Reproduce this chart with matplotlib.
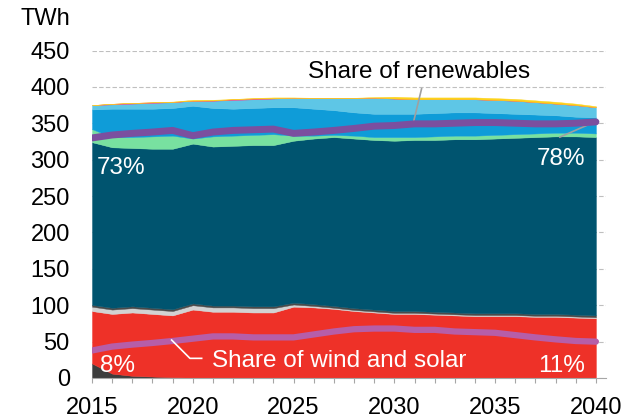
import matplotlib
matplotlib.use('Agg')
import matplotlib.pyplot as plt
from matplotlib.ticker import MultipleLocator

plt.rcParams['font.family'] = ['Liberation Sans', 'DejaVu Sans']

years = list(range(2015, 2041))
# TWh by source (stacked, bottom to top)
coal = [20, 6, 3, 2, 1, 0.5, 0, 0, 0, 0, 0, 0, 0, 0, 0, 0, 0, 0, 0, 0, 0, 0, 0, 0, 0, 0]
gas = [72, 82, 87, 86, 85, 93.5, 91, 91, 90, 90, 98, 97, 95, 92, 90, 88, 88, 87, 86, 85, 85, 85, 84, 84, 83, 82]
oil = [6, 6, 6, 6, 6, 6, 6, 6, 6, 6, 3, 2, 1.5, 1.5, 1.5, 1.5, 1.5, 1.5, 1.5, 1.5, 1.5, 1.5, 1.5, 1.5, 1.5, 1.5]
other = [2.5] * 26
hydro = [223.5, 220.5, 217.5, 218.5, 220.5, 219.5, 218.5, 219.5, 221.5, 221.5, 222.5, 227.5, 232, 233, 233, 234,
         235, 236, 238, 239, 240, 241, 243, 244, 245, 245]
bio = [18, 14, 15, 17, 18, 7, 14, 14, 14, 15, 7, 4, 3, 4, 4, 5, 4, 5, 5, 5, 5, 5, 5, 5, 5, 5]
wind = [27, 39, 39, 38, 38, 45, 39, 37, 37, 37, 39, 37, 34, 32, 32, 32, 32, 32, 32, 32, 30, 28, 26, 24, 22, 22]
solar = [6, 6, 7, 8, 8, 7, 10, 12, 12, 12, 13, 15, 17, 20, 22, 21, 20, 19, 18, 18, 18, 18, 17, 16, 16, 14]
geo = [0, 0.8, 1, 0.8, 0.3, 0, 0.3, 1, 1, 0.3, 0, 0, 0, 0, 0, 0, 0, 0, 0, 0, 0, 0, 0, 0, 0, 0]
marine = [0, 0, 0, 0, 0.5, 1.2, 1.0, 0.3, 0.8, 1.2, 0.5, 0, 0, 0, 1, 2.5, 2.5, 2.5, 2.5, 2.5, 2.5, 2.5, 2.5, 2.5, 2, 1.5]

# shares in %
share_renewables = [73.3, 74.2, 74.7, 75.1, 75.6, 74.0, 75.1, 75.6, 75.8, 76.0, 74.7, 75.1, 75.6, 76.2, 76.9, 77.1,
                    77.6, 77.6, 77.8, 78.0, 78.0, 77.8, 77.6, 77.6, 77.8, 78.2]
share_wind_solar = [8.4, 9.6, 10.2, 10.7, 11.3, 12.0, 12.7, 12.7, 12.4, 12.4, 12.4, 13.3, 14.2, 14.9, 15.1, 15.1,
                    14.7, 14.7, 14.2, 14.0, 13.8, 13.1, 12.4, 11.8, 11.3, 11.1]

colors = ['#3d3d3d', '#ee3128', '#d2d2d2', '#4a4a4a', '#00546f', '#78e1a0', '#0f9cd8', '#5ec6e6', '#e8448c', '#fdd21a']

fig = plt.figure(figsize=(6.38, 4.2), dpi=100)
ax = fig.add_axes([92 / 638, 42 / 420, (606 - 92) / 638, 327.5 / 420])
polys = ax.stackplot(years, coal, gas, oil, other, hydro, bio, wind, solar, geo, marine,
                     colors=colors, linewidth=0, zorder=2)
for p, c in zip(polys, colors):
    p.set_edgecolor(c)
    p.set_linewidth(0.3)
ax.set_xlim(2015, 2040.5)
ax.set_ylim(0, 450)
ax.yaxis.set_major_locator(MultipleLocator(50))
ax.xaxis.set_major_locator(MultipleLocator(5))
ax.xaxis.set_minor_locator(MultipleLocator(1))
ax.yaxis.grid(True, color='#bfbfbf', linestyle=(0, (4, 2)), linewidth=0.8, zorder=0)
ax.set_axisbelow(True)
for s in ['left', 'top', 'right']:
    ax.spines[s].set_visible(False)
ax.spines['bottom'].set_color('#a6a6a6')
ax.spines['bottom'].set_linewidth(0.8)
ax.tick_params(axis='y', length=0, pad=16, labelsize=17)
ax.tick_params(axis='x', which='both', length=3.6, width=0.8, color='#a6a6a6', pad=10, labelsize=17)
fig.text(70 / 638, 1 - 19 / 420, 'TWh', ha='right', va='center', fontsize=17)

ax2 = ax.twinx()
ax2.set_ylim(0, 100)
ax2.set_xlim(2015, 2040.5)
ax2.axis('off')
ax2.plot(years, share_renewables, color='#7b4f9f', lw=5, solid_capstyle='round', zorder=3)
ax2.plot(years, share_wind_solar, color='#b65ea8', lw=4.5, solid_capstyle='round', zorder=3)

tr = ax.transData
# leader lines
ax2.plot([2031.35, 2030.93], [397.4, 349.4], color='#a0a0a0', lw=1.2, transform=tr, zorder=2)
ax2.plot([2038.21, 2039.95], [331, 352], color='#a0a0a0', lw=1.2, transform=tr, zorder=2)
ax2.plot([2018.95, 2019.86, 2020.44], [52.2, 27, 27], color='white', lw=1.2, transform=tr, zorder=4)

fs = 17.5
ax2.text(2025.71, 411.7, 'Share of renewables', transform=tr, fontsize=fs, ha='left', va='baseline', color='black')
ax2.text(2020.95, 15.5, 'Share of wind and solar', transform=tr, fontsize=fs, ha='left', va='baseline', color='white')
ax2.text(2015.25, 279.8, '73%', transform=tr, fontsize=fs, ha='left', va='baseline', color='white')
ax2.text(2039.45, 292.6, '78%', transform=tr, fontsize=fs, ha='right', va='baseline', color='white')
ax2.text(2015.4, 8.7, '8%', transform=tr, fontsize=fs, ha='left', va='baseline', color='white')
ax2.text(2039.45, 8.7, '11%', transform=tr, fontsize=fs, ha='right', va='baseline', color='white')

fig.savefig('out.png', dpi=100)
